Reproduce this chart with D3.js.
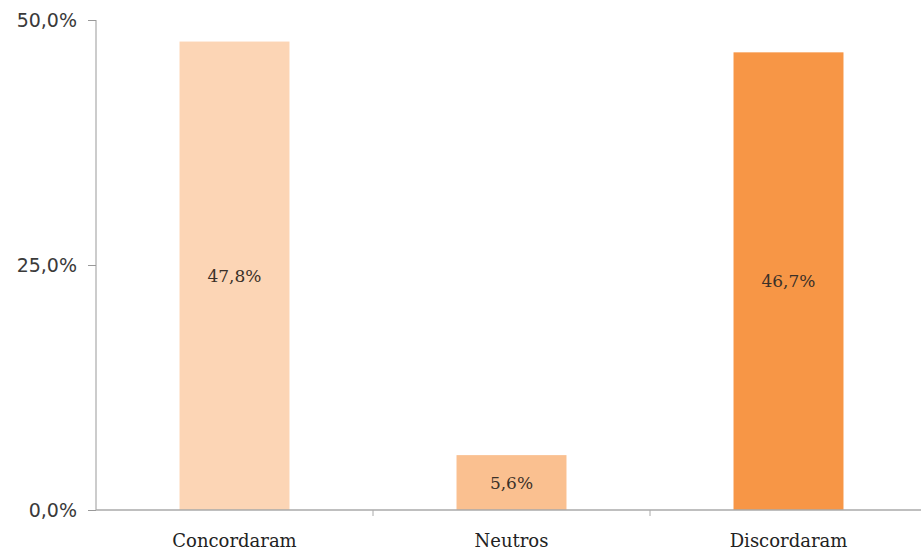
<!DOCTYPE html>
<html>
<head>
<meta charset="utf-8">
<script src="https://cdn.jsdelivr.net/npm/d3@7"></script>
<style>
  html, body { margin: 0; padding: 0; background: #fff; }
  svg { display: block; }
</style>
</head>
<body>
<svg id="chart" width="921" height="552"></svg>
<script>
// Survey answers: share of respondents per answer group
const categories = ["Concordaram", "Neutros", "Discordaram"];
const values = [47.8, 5.6, 46.7];
const barColors = ["#FCD5B5", "#FAC090", "#F79646"];
const yTicks = [0, 25, 50];

(function draw() {
  const fmt = v => d3.format(".1f")(v).replace(".", ",") + "%";
  const serif = "'DejaVu Serif', 'Liberation Serif', serif";
  const sans = "'DejaVu Sans', 'Liberation Sans', sans-serif";

  const svg = d3.select("#chart");
  const plotLeft = 96, plotRight = 927, plotTop = 20, plotBottom = 510;

  const x = d3.scaleBand()
    .domain(categories)
    .range([plotLeft, plotRight])
    .paddingInner(0.603)
    .paddingOuter(0.3015);

  const y = d3.scaleLinear().domain([0, 50]).range([plotBottom, plotTop]);

  // bars
  svg.append("g").selectAll("rect")
    .data(categories)
    .join("rect")
    .attr("x", d => x(d))
    .attr("width", x.bandwidth())
    .attr("y", (d, i) => y(values[i]))
    .attr("height", (d, i) => y(0) - y(values[i]))
    .attr("fill", (d, i) => barColors[i]);

  // value labels centred in each bar
  svg.append("g").selectAll("text")
    .data(categories)
    .join("text")
    .attr("x", d => x(d) + x.bandwidth() / 2)
    .attr("y", (d, i) => (y(values[i]) + y(0)) / 2)
    .attr("dy", "0.35em")
    .attr("text-anchor", "middle")
    .attr("font-family", serif)
    .attr("font-size", 17)
    .attr("fill", "#3a3028")
    .text((d, i) => fmt(values[i]));

  // y axis
  const yAxis = svg.append("g")
    .attr("transform", `translate(${plotLeft},0)`)
    .call(d3.axisLeft(y).tickValues(yTicks).tickFormat(fmt).tickSize(8).tickPadding(11));
  yAxis.select(".domain").attr("stroke", "#999").attr("d", `M0,${plotTop}V${plotBottom}`);
  yAxis.selectAll(".tick line").attr("stroke", "#999");
  yAxis.selectAll(".tick text")
    .attr("font-family", sans)
    .attr("font-size", 19)
    .attr("fill", "#3a3a3a");

  // x axis with tick marks between categories
  const boundaries = categories.slice(1).map(c => x(c) - x.step() * x.paddingInner() / 2);
  const xAxisG = svg.append("g").attr("transform", `translate(0,${plotBottom})`);
  xAxisG.append("line")
    .attr("x1", plotLeft).attr("x2", plotRight)
    .attr("stroke", "#aaa")
    .attr("stroke-width", 1.5);
  xAxisG.selectAll("line.sep")
    .data(boundaries)
    .join("line")
    .attr("class", "sep")
    .attr("x1", d => d).attr("x2", d => d)
    .attr("y1", 0).attr("y2", 6)
    .attr("stroke", "#aaa");
  xAxisG.selectAll("text")
    .data(categories)
    .join("text")
    .attr("x", d => x(d) + x.bandwidth() / 2)
    .attr("y", 37)
    .attr("text-anchor", "middle")
    .attr("font-family", serif)
    .attr("font-size", 18)
    .attr("fill", "#222")
    .text(d => d);
})();
</script>
</body>
</html>
